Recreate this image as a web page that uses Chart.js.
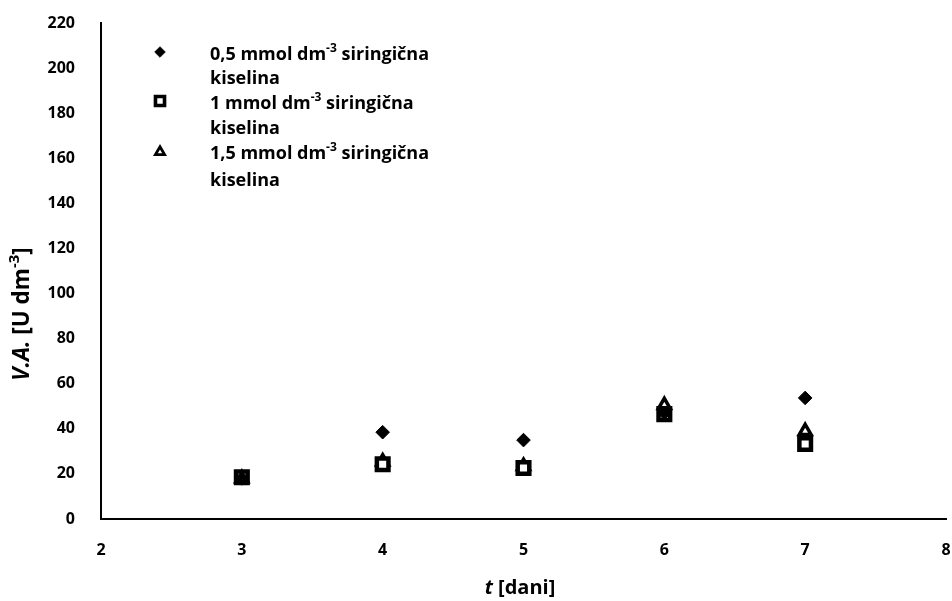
<!DOCTYPE html>
<html><head><meta charset="utf-8">
<script src="https://cdn.jsdelivr.net/npm/chart.js@4"></script>
<style>html,body{margin:0;padding:0;background:#fff}#c{display:block}</style>
</head><body>
<canvas id="c" width="952" height="601"></canvas>
<script>
const days = [3, 4, 5, 6, 7];
const series05 = [18, 38.5, 35, 47, 53.7];
const series1 = [18.5, 24.3, 22.6, 46.5, 33.3];
const series15 = [18, 25.5, 23.5, 50.5, 39];
const xTickValues = [2, 3, 4, 5, 6, 7, 8];
const yTickValues = [0, 20, 40, 60, 80, 100, 120, 140, 160, 180, 200, 220];
const seriesNames = ["0,5", "1", "1,5"];

const FONT = "'Open Sans', Lato, sans-serif";

function toPts(vals){ return days.map((d,i)=>({x:d,y:vals[i]})); }

const styles = [
  {pointStyle:'rectRot', radius:6.8, backgroundColor:'#000', borderColor:'#000', borderWidth:1},
  {pointStyle:'rect', radius:8.2, backgroundColor:'#fff', borderColor:'#000', borderWidth:4.5},
  {pointStyle:'triangle', radius:6.8, backgroundColor:'#fff', borderColor:'#000', borderWidth:3.5}
];

function richWidth(ctx, parts, size){
  let w=0;
  for(const p of parts){
    ctx.font = (p.it?'italic ':'')+'bold '+(p.sup?Math.round(size*0.66):size)+'px '+FONT;
    w += ctx.measureText(p.t).width;
  }
  return w;
}
function drawRich(ctx, parts, x, y, size){
  for(const p of parts){
    const s = p.sup?Math.round(size*0.66):size;
    ctx.font = (p.it?'italic ':'')+'bold '+s+'px '+FONT;
    ctx.fillText(p.t, x, p.sup? y - size*0.36 : y);
    x += ctx.measureText(p.t).width;
  }
}

const overlay = {
  id:'overlay',
  afterDraw(chart){
    const ctx = chart.ctx;
    ctx.save();
    ctx.fillStyle = '#000';
    ctx.textBaseline = 'middle';
    ctx.textAlign = 'left';
    const markerY = [52, 101, 152];
    const textY = [55, 79, 104, 129, 154, 181];
    seriesNames.forEach((n,i)=>{
      const st = styles[i];
      ctx.lineWidth = st.borderWidth*0.8;
      ctx.strokeStyle = st.borderColor;
      ctx.fillStyle = st.backgroundColor;
      Chart.helpers.drawPoint(ctx, {pointStyle:st.pointStyle, radius: st.radius*0.78, borderWidth: st.borderWidth*0.8, rotation:0}, 160, markerY[i]);
      ctx.fillStyle = '#000';
      drawRich(ctx, [{t:n+' mmol dm'},{t:'-3',sup:true},{t:' siringična'}], 210, textY[i*2], 18);
      drawRich(ctx, [{t:'kiselina'}], 210, textY[i*2+1], 18);
    });
    const xp = [{t:'t',it:true},{t:' [dani]'}];
    const xw = richWidth(ctx, xp, 20);
    drawRich(ctx, xp, 520 - xw/2, 588, 20);
    const yp = [{t:'V.A.',it:true},{t:' [U dm'},{t:'-3',sup:true},{t:']'}];
    ctx.translate(23, 314);
    ctx.rotate(-Math.PI/2);
    const yw = richWidth(ctx, yp, 22.5);
    drawRich(ctx, yp, -yw/2, 0, 22.5);
    ctx.restore();
  }
};

function zeroPad(s){ s.paddingLeft = 0; s.paddingRight = 0; s.paddingTop = 0; s.paddingBottom = 0; }

new Chart(document.getElementById('c'), {
  type:'scatter',
  data:{datasets:[
    Object.assign({label:seriesNames[0], data:toPts(series05)}, styles[0], {pointRadius:styles[0].radius}),
    Object.assign({label:seriesNames[1], data:toPts(series1)}, styles[1], {pointRadius:styles[1].radius}),
    Object.assign({label:seriesNames[2], data:toPts(series15)}, styles[2], {pointRadius:styles[2].radius})
  ]},
  options:{
    responsive:false, animation:false,
    layout:{autoPadding:false, padding:{top:23, right:6, left:0, bottom:0}},
    plugins:{legend:{display:false}, tooltip:{enabled:false}},
    scales:{
      x:{type:'linear', min:2, max:8,
        afterBuildTicks(s){ s.ticks = xTickValues.map(v=>({value:v})); },
        afterFit(s){ s.height = 82; zeroPad(s); },
        grid:{display:false}, border:{display:true, color:'#000', width:2},
        ticks:{color:'#000', padding:14, font:{family:FONT, size:16, weight:'bold'}}
      },
      y:{type:'linear', min:0, max:220,
        afterBuildTicks(s){ s.ticks = yTickValues.map(v=>({value:v})); },
        afterFit(s){ s.width = 101; zeroPad(s); },
        grid:{display:false}, border:{display:true, color:'#000', width:2},
        ticks:{color:'#000', padding:18, font:{family:FONT, size:16, weight:'bold'}}
      }
    }
  },
  plugins:[overlay]
});
</script>
</body></html>
